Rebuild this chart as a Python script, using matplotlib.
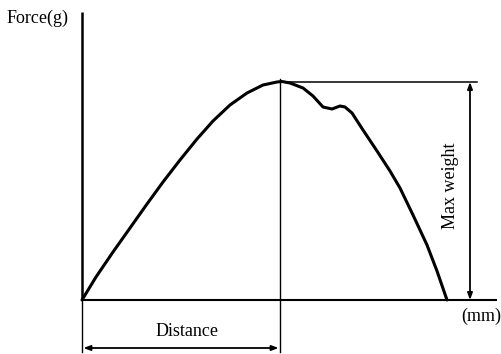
import matplotlib
matplotlib.use("Agg")
import matplotlib.pyplot as plt

# Force–distance curve (schematic units: distance, force)
distance = [0, 14, 31, 48, 65, 81, 98, 115, 131, 148, 165, 181, 195, 200,
            208, 221, 231, 241, 250, 258, 263, 270, 281, 295, 308, 318, 331, 345, 355, 365]
force = [0, 23, 48, 72, 96, 118, 140, 161, 179, 195, 207, 215, 218, 218.5,
         217, 212, 204, 193, 191, 194, 193, 187, 170, 149, 129, 112, 85, 55, 29, 0]

peak_x = 198
peak_y = 218
x_axis_end = 415
y_axis_top = 288
maxw_x = 388
top_line_end = 395
dist_arrow_y = -48

labels = {"y": "Force(g)", "x": "(mm)", "dist": "Distance", "max": "Max weight"}

plt.rcParams['font.family'] = ['Liberation Serif', 'DejaVu Serif']

fig = plt.figure(figsize=(5.01, 3.54), dpi=100)
ax = fig.add_axes([0, 0, 1, 1])
ax.set_xlim(-82, 419)
ax.set_ylim(-54, 300)
ax.axis('off')

k = 'black'
# axes
ax.plot([0, 0], [0, y_axis_top], color=k, lw=1.8, solid_capstyle='butt')
ax.plot([0, x_axis_end], [0, 0], color=k, lw=1.5, solid_capstyle='butt')
# curve
ax.plot(distance, force, color=k, lw=2.2, solid_joinstyle='round', solid_capstyle='round')
# peak vertical line
ax.plot([peak_x, peak_x], [dist_arrow_y - 4, peak_y + 3], color=k, lw=1.0)
# distance extension left
ax.plot([0, 0], [dist_arrow_y - 4, 0], color=k, lw=1.0)
# top horizontal line
ax.plot([peak_x, top_line_end], [peak_y, peak_y], color=k, lw=1.1)
# max weight arrow
ax.annotate('', xy=(maxw_x, peak_y), xytext=(maxw_x, 0),
            arrowprops=dict(arrowstyle='<|-|>,head_length=0.4,head_width=0.15',
                            color=k, lw=1.3, shrinkA=0, shrinkB=0))
# distance arrow
ax.annotate('', xy=(0, dist_arrow_y), xytext=(peak_x, dist_arrow_y),
            arrowprops=dict(arrowstyle='<|-|>,head_length=0.4,head_width=0.15',
                            color=k, lw=1.3, shrinkA=1, shrinkB=1))

fs = 13
ax.text(-75, 282, labels["y"], fontsize=fs, ha='left', va='center')
ax.text(399, -16, labels["x"], fontsize=fs, ha='center', va='center')
ax.text(105, -31, labels["dist"], fontsize=fs, ha='center', va='center')
ax.text(369, 114, labels["max"], fontsize=fs, ha='center', va='center', rotation=90)

fig.savefig('out.png', dpi=100)
